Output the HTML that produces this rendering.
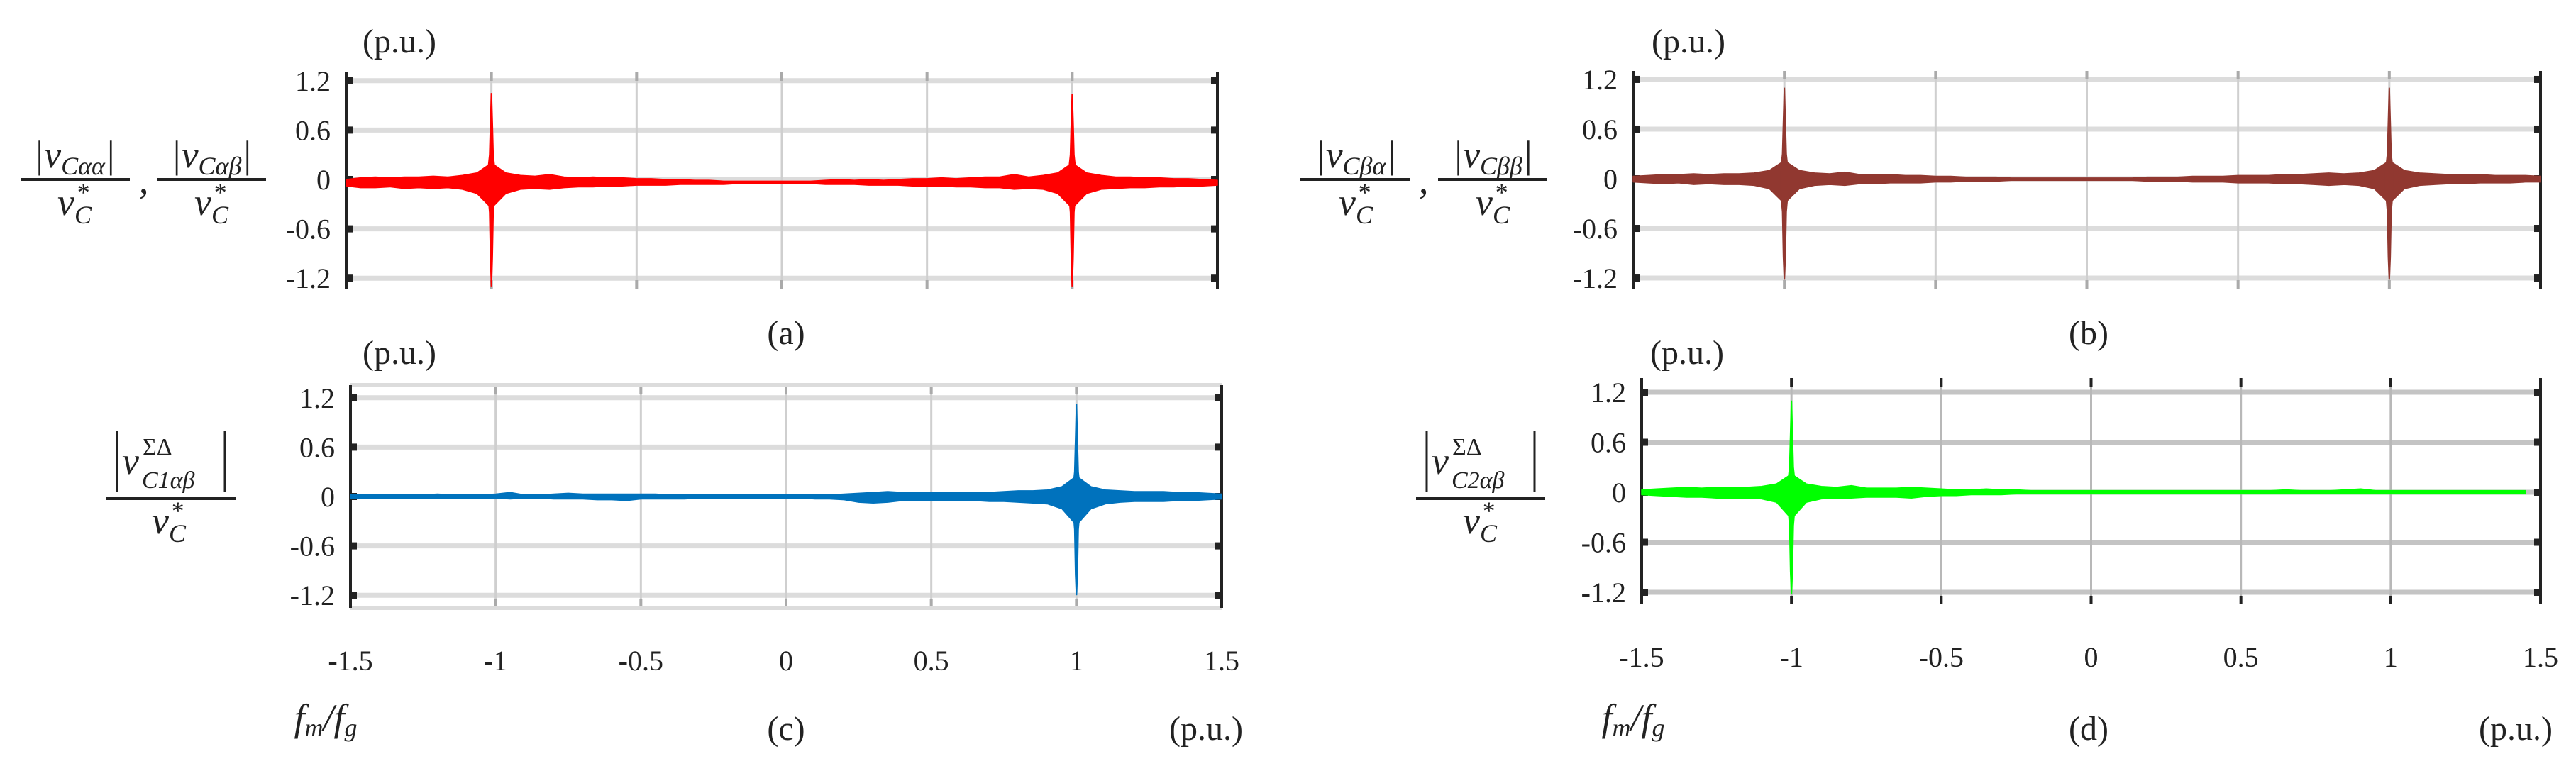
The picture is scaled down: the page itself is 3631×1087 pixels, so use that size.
<!DOCTYPE html>
<html><head><meta charset="utf-8"><style>
html,body{margin:0;padding:0;background:#fff}
svg{display:block}
text{font-family:"Liberation Serif",serif;fill:#222}
.tk{font-size:40px}
</style></head><body>
<svg id="fig" width="3631" height="1087" viewBox="0 0 3631 1087" xmlns="http://www.w3.org/2000/svg">
<g id="layer"></g>
</svg>
<script>
// shared x grid: -1.5 .. 1.5 step 0.05
const xCats = [];
for (let i = 0; i <= 60; i++) xCats.push(+(-1.5 + 0.05 * i).toFixed(2));
const xTicks = [-1.5, -1, -0.5, 0, 0.5, 1, 1.5];
const xTickLabels = ["-1.5", "-1", "-0.5", "0", "0.5", "1", "1.5"];
const yTicks = [1.2, 0.6, 0, -0.6, -1.2];
const yTickLabels = ["1.2", "0.6", "0", "-0.6", "-1.2"];

// panel (a) envelope
const aHi = [0.0,0.02,0.03,0.02,0.03,0.03,0.04,0.03,0.05,0.08, 0.2, 0.08,0.05,0.04,0.06,0.03,0.02,0.03,0.02,0.02,0.01, 0.01,0.0,0.0,-0.01,-0.01,-0.02,-0.02,-0.02,-0.02,-0.02, -0.02,-0.02,-0.01,0.0,-0.01,0.0,-0.01,0.0,0.01,0.01, 0.02,0.01,0.02,0.03,0.03,0.06,0.03,0.05,0.08,0.2, 0.08,0.05,0.03,0.03,0.02,0.02,0.01,0.01,0.0,-0.01];
const aLo = [-0.08,-0.1,-0.1,-0.09,-0.11,-0.1,-0.11,-0.1,-0.12,-0.17, -0.35, -0.17,-0.12,-0.11,-0.12,-0.1,-0.09,-0.09,-0.08,-0.08,-0.07, -0.07,-0.07,-0.06,-0.06,-0.06,-0.06,-0.05,-0.05,-0.05,-0.05, -0.05,-0.05,-0.06,-0.06,-0.06,-0.07,-0.07,-0.07,-0.08,-0.08, -0.08,-0.09,-0.09,-0.1,-0.1,-0.12,-0.11,-0.12,-0.17,-0.35, -0.17,-0.12,-0.11,-0.1,-0.1,-0.09,-0.09,-0.08,-0.08,-0.07];
const aPeakX = [-1, 1];
const aPeakHi = [1.05, 1.04];
const aPeakLo = [-1.3, -1.3];

// panel (b)
const bHi = [0.03,0.04,0.05,0.05,0.06,0.05,0.06,0.06,0.07,0.1, 0.22, 0.1,0.07,0.06,0.08,0.05,0.05,0.05,0.04,0.04,0.03, 0.03,0.02,0.02,0.02,0.01,0.01,0.01,0.01,0.01,0.01, 0.01,0.01,0.01,0.02,0.02,0.02,0.03,0.03,0.03,0.04, 0.04,0.04,0.05,0.05,0.06,0.07,0.06,0.07,0.1,0.22, 0.1,0.07,0.06,0.05,0.05,0.05,0.04,0.04,0.04,0.03];
const bLo = [-0.04,-0.05,-0.06,-0.05,-0.07,-0.06,-0.07,-0.07,-0.08,-0.12, -0.3, -0.12,-0.08,-0.07,-0.08,-0.06,-0.06,-0.05,-0.05,-0.05,-0.04, -0.04,-0.03,-0.03,-0.03,-0.02,-0.02,-0.02,-0.02,-0.02,-0.02, -0.02,-0.02,-0.02,-0.03,-0.03,-0.03,-0.04,-0.04,-0.04,-0.05, -0.05,-0.05,-0.06,-0.06,-0.07,-0.08,-0.07,-0.08,-0.12,-0.3, -0.12,-0.08,-0.07,-0.06,-0.06,-0.05,-0.05,-0.05,-0.04,-0.04];
const bPeakX = [-1, 1];
const bPeakHi = [1.1, 1.1];
const bPeakLo = [-1.22, -1.22];

// panel (c)
const cHi = [0.02,0.02,0.02,0.02,0.02,0.02,0.03,0.02,0.02,0.02, 0.03, 0.05,0.02,0.02,0.03,0.04,0.03,0.03,0.03,0.03,0.03, 0.03,0.02,0.02,0.02,0.02,0.02,0.02,0.02,0.02,0.02, 0.02,0.02,0.02,0.03,0.04,0.05,0.06,0.05,0.05,0.05, 0.05,0.05,0.05,0.05,0.06,0.07,0.07,0.08,0.12,0.25, 0.12,0.08,0.07,0.06,0.06,0.06,0.05,0.05,0.04,0.03];
const cLo = [-0.02,-0.02,-0.02,-0.02,-0.02,-0.02,-0.02,-0.02,-0.02,-0.02, -0.02, -0.03,-0.02,-0.02,-0.03,-0.03,-0.03,-0.04,-0.04,-0.05,-0.03, -0.03,-0.03,-0.03,-0.02,-0.02,-0.02,-0.02,-0.02,-0.02,-0.02, -0.02,-0.03,-0.03,-0.04,-0.07,-0.08,-0.07,-0.05,-0.05,-0.05, -0.05,-0.05,-0.05,-0.06,-0.06,-0.07,-0.08,-0.09,-0.15,-0.35, -0.15,-0.09,-0.07,-0.06,-0.06,-0.06,-0.05,-0.05,-0.04,-0.03];
const cPeakX = [1];
const cPeakHi = [1.12];
const cPeakLo = [-1.2];

// panel (d) (trace ends at 1.45)
const dHi = [0.03,0.04,0.05,0.06,0.05,0.06,0.06,0.06,0.07,0.1, 0.22, 0.1,0.07,0.06,0.08,0.05,0.05,0.05,0.06,0.05,0.04, 0.03,0.03,0.04,0.03,0.03,0.02,0.02,0.02,0.02,0.02, 0.02,0.02,0.02,0.02,0.02,0.02,0.02,0.02,0.02,0.02, 0.02,0.02,0.03,0.02,0.02,0.02,0.03,0.04,0.02,0.02, 0.02,0.02,0.02,0.02,0.02,0.02,0.02,0.02,0.02];
const dLo = [-0.03,-0.04,-0.05,-0.06,-0.06,-0.07,-0.07,-0.07,-0.08,-0.12, -0.32, -0.12,-0.08,-0.07,-0.07,-0.06,-0.06,-0.06,-0.07,-0.05,-0.04, -0.04,-0.03,-0.03,-0.03,-0.02,-0.02,-0.02,-0.02,-0.02,-0.02, -0.02,-0.02,-0.02,-0.02,-0.02,-0.02,-0.02,-0.02,-0.02,-0.02, -0.02,-0.02,-0.02,-0.02,-0.02,-0.02,-0.02,-0.02,-0.02,-0.02, -0.02,-0.02,-0.02,-0.02,-0.02,-0.02,-0.02,-0.02,-0.02];
const dPeakX = [-1];
const dPeakHi = [1.1];
const dPeakLo = [-1.22];

const NS = "http://www.w3.org/2000/svg";
const layer = document.getElementById("layer");
function mk(tag, attrs, parent) {
  const e = document.createElementNS(NS, tag);
  for (const k in attrs) e.setAttribute(k, attrs[k]);
  (parent || layer).appendChild(e);
  return e;
}

const panels = [
  {id:"a", L:488, R:1716, T:102, B:407, y0:253, k:116, color:"#ff0000", hi:aHi, lo:aLo, px:aPeakX, ph:aPeakHi, pl:aPeakLo, hgrid:"#dcdcdc", vgrid:"#cfcfcf", xlabels:false},
  {id:"b", L:2302, R:3581, T:100, B:407, y0:252, k:116.7, color:"#913830", hi:bHi, lo:bLo, px:bPeakX, ph:bPeakHi, pl:bPeakLo, hgrid:"#dcdcdc", vgrid:"#cfcfcf", xlabels:false},
  {id:"c", L:494, R:1722, T:543, B:857, y0:700, k:116, color:"#0072bd", hi:cHi, lo:cLo, px:cPeakX, ph:cPeakHi, pl:cPeakLo, hgrid:"#dcdcdc", vgrid:"#cfcfcf", xlabels:true, boxTopBot:true},
  {id:"d", L:2314, R:3581, T:533, B:852, y0:694, k:117.5, color:"#00ff00", hi:dHi, lo:dLo, px:dPeakX, ph:dPeakHi, pl:dPeakLo, hgrid:"#c4c4c4", vgrid:"#b8b8b8", xlabels:true, darkTicks:true}
];

panels.forEach(p => {
  const g = mk("g", {});
  
  
  const X = v => p.L + (v + 1.5) / 3 * (p.R - p.L);
  const Y = v => p.y0 - v * p.k;
  yTicks.forEach((t, i) => {
    const ln = mk("line", {x1:p.L, x2:p.R, y1:Y(t), y2:Y(t), stroke:p.hgrid, "stroke-width":7}, g);
    
    
    mk("rect", {x:p.L, y:Y(t)-5, width:9, height:10, fill:"#222"}, g);
    mk("rect", {x:p.R-9, y:Y(t)-5, width:9, height:10, fill:"#222"}, g);
    const tx = mk("text", {x:p.L-22, y:Y(t)+14, "text-anchor":"end", class:"tk"}, g);
    tx.textContent = yTickLabels[i];
    
    
  });
  xTicks.forEach((t, i) => {
    if (i > 0 && i < xTicks.length - 1) {
      const ln = mk("line", {x1:X(t), x2:X(t), y1:p.T, y2:p.B, stroke:p.vgrid, "stroke-width":3}, g);
      
      
      const tc = p.darkTicks ? "#222" : "#aaa";
      mk("line", {x1:X(t), x2:X(t), y1:p.T, y2:p.T+12, stroke:tc, "stroke-width":4}, g);
      mk("line", {x1:X(t), x2:X(t), y1:p.B-12, y2:p.B, stroke:tc, "stroke-width":4}, g);
    }
    if (p.xlabels) {
      const tx = mk("text", {x:X(t), y:p.B+88, "text-anchor":"middle", class:"tk"}, g);
      tx.textContent = xTickLabels[i];
      
      
    }
  });
  if (p.boxTopBot) {
    mk("line", {x1:p.L, x2:p.R, y1:p.T, y2:p.T, stroke:"#dcdcdc", "stroke-width":6}, g);
    mk("line", {x1:p.L, x2:p.R, y1:p.B, y2:p.B, stroke:"#dcdcdc", "stroke-width":6}, g);
  }
  const la = mk("line", {x1:p.L, x2:p.L, y1:p.T, y2:p.B, stroke:"#222", "stroke-width":4}, g);
  
  
  const ra = mk("line", {x1:p.R, x2:p.R, y1:p.T, y2:p.B, stroke:"#222", "stroke-width":4}, g);
  
  
  const n = Math.min(p.hi.length, xCats.length);
  let pts = [];
  for (let i = 0; i < n; i++) pts.push(X(xCats[i]) + "," + Y(p.hi[i]));
  for (let i = n - 1; i >= 0; i--) pts.push(X(xCats[i]) + "," + Y(p.lo[i]));
  const env = mk("polygon", {points:pts.join(" "), fill:p.color, stroke:p.color, "stroke-width":1.5, "stroke-linejoin":"round"}, g);
  
  
  p.px.forEach((x, i) => {
    const pp = [
      [x - 0.012, 0.1], [x - 0.006, 0.3], [x - 0.003, 0.7], [x, p.ph[i]], [x + 0.003, 0.7], [x + 0.006, 0.3], [x + 0.012, 0.1],
      [x + 0.012, -0.15], [x + 0.006, -0.4], [x + 0.003, -0.95], [x, p.pl[i]], [x - 0.003, -0.95], [x - 0.006, -0.4], [x - 0.012, -0.15]
    ].map(q => X(q[0]) + "," + Y(q[1])).join(" ");
    const pk = mk("polygon", {points:pp, fill:p.color, stroke:p.color, "stroke-width":2}, g);
    
    
  });
});
</script>

<svg style="position:absolute;left:0;top:0" width="3631" height="1087">
<style>text{font-family:"Liberation Serif",serif;fill:#222}</style>
<text x="563" y="74" font-size="48" text-anchor="middle">(p.u.)</text>
<text x="1108" y="485" font-size="48" text-anchor="middle">(a)</text>
<g>
  <text x="105" y="236" font-size="54" text-anchor="middle" font-style="italic">|v<tspan font-size="36" dy="10">Cαα</tspan><tspan dy="-10">|</tspan></text>
  <line x1="29" x2="183" y1="253" y2="253" stroke="#222" stroke-width="4"/>
  <text x="105" y="303" font-size="54" text-anchor="middle" font-style="italic">v<tspan font-size="36" dy="12">C</tspan><tspan font-size="36" dx="-22" dy="-32">*</tspan></text>
  <text x="196" y="272" font-size="54">,</text>
  <text x="298" y="236" font-size="54" text-anchor="middle" font-style="italic">|v<tspan font-size="36" dy="10">Cαβ</tspan><tspan dy="-10">|</tspan></text>
  <line x1="222" x2="375" y1="253" y2="253" stroke="#222" stroke-width="4"/>
  <text x="298" y="303" font-size="54" text-anchor="middle" font-style="italic">v<tspan font-size="36" dy="12">C</tspan><tspan font-size="36" dx="-22" dy="-32">*</tspan></text>
</g>
<text x="2380" y="74" font-size="48" text-anchor="middle">(p.u.)</text>
<text x="2944" y="485" font-size="48" text-anchor="middle">(b)</text>
<g>
  <text x="1911" y="236" font-size="54" text-anchor="middle" font-style="italic">|v<tspan font-size="36" dy="10">Cβα</tspan><tspan dy="-10">|</tspan></text>
  <line x1="1833" x2="1987" y1="253" y2="253" stroke="#222" stroke-width="4"/>
  <text x="1911" y="303" font-size="54" text-anchor="middle" font-style="italic">v<tspan font-size="36" dy="12">C</tspan><tspan font-size="36" dx="-22" dy="-32">*</tspan></text>
  <text x="2000" y="272" font-size="54">,</text>
  <text x="2104" y="236" font-size="54" text-anchor="middle" font-style="italic">|v<tspan font-size="36" dy="10">Cββ</tspan><tspan dy="-10">|</tspan></text>
  <line x1="2027" x2="2180" y1="253" y2="253" stroke="#222" stroke-width="4"/>
  <text x="2104" y="303" font-size="54" text-anchor="middle" font-style="italic">v<tspan font-size="36" dy="12">C</tspan><tspan font-size="36" dx="-22" dy="-32">*</tspan></text>
</g>
<text x="563" y="513" font-size="48" text-anchor="middle">(p.u.)</text>
<g>
  <line x1="165" x2="165" y1="608" y2="694" stroke="#222" stroke-width="3"/>
  <line x1="317" x2="317" y1="608" y2="694" stroke="#222" stroke-width="3"/>
  <text x="172" y="668" font-size="54" font-style="italic">v</text>
  <text x="201" y="641" font-size="34">ΣΔ</text>
  <text x="200" y="688" font-size="34" font-style="italic">C1αβ</text>
  <line x1="150" x2="332" y1="703" y2="703" stroke="#222" stroke-width="4"/>
  <text x="238" y="752" font-size="54" text-anchor="middle" font-style="italic">v<tspan font-size="36" dy="12">C</tspan><tspan font-size="36" dx="-22" dy="-32">*</tspan></text>
</g>
<text x="459" y="1030" font-size="54" text-anchor="middle" font-style="italic">f<tspan font-size="36" dy="8">m</tspan><tspan dy="-8">/f</tspan><tspan font-size="36" dy="8">g</tspan></text>
<text x="1108" y="1043" font-size="48" text-anchor="middle">(c)</text>
<text x="1700" y="1043" font-size="48" text-anchor="middle">(p.u.)</text>
<text x="2378" y="513" font-size="48" text-anchor="middle">(p.u.)</text>
<g>
  <line x1="2011" x2="2011" y1="608" y2="694" stroke="#222" stroke-width="3"/>
  <line x1="2163" x2="2163" y1="608" y2="694" stroke="#222" stroke-width="3"/>
  <text x="2018" y="668" font-size="54" font-style="italic">v</text>
  <text x="2047" y="641" font-size="34">ΣΔ</text>
  <text x="2046" y="688" font-size="34" font-style="italic">C2αβ</text>
  <line x1="1996" x2="2178" y1="703" y2="703" stroke="#222" stroke-width="4"/>
  <text x="2086" y="752" font-size="54" text-anchor="middle" font-style="italic">v<tspan font-size="36" dy="12">C</tspan><tspan font-size="36" dx="-22" dy="-32">*</tspan></text>
</g>
<text x="2302" y="1030" font-size="54" text-anchor="middle" font-style="italic">f<tspan font-size="36" dy="8">m</tspan><tspan dy="-8">/f</tspan><tspan font-size="36" dy="8">g</tspan></text>
<text x="2944" y="1043" font-size="48" text-anchor="middle">(d)</text>
<text x="3546" y="1043" font-size="48" text-anchor="middle">(p.u.)</text>
</svg>
</body></html>
